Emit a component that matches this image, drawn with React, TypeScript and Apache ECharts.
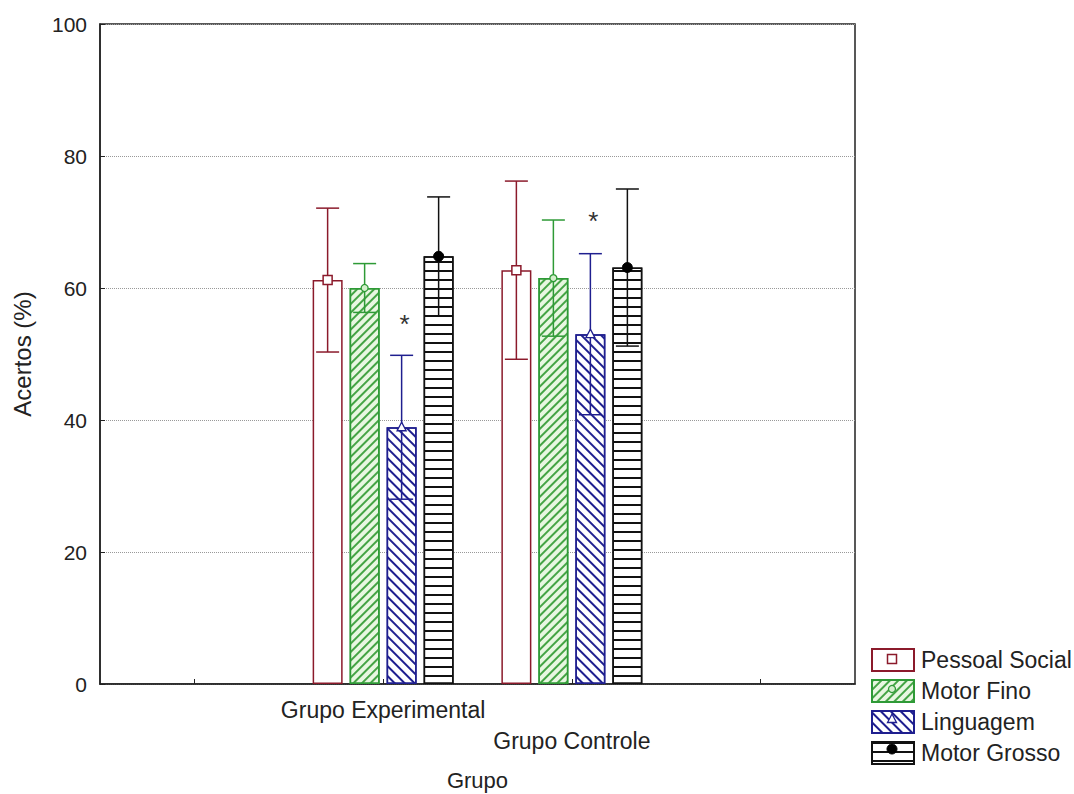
import React, { useEffect, useRef } from 'react';
import * as echarts from 'echarts';

// ---- data ----
const categories = ['', 'Grupo Experimental', 'Grupo Controle', ''];
const seriesNames = ['Pessoal Social', 'Motor Fino', 'Linguagem', 'Motor Grosso'];
const groupIndex = [1, 2];
const pessoalSocialMean = [61.2, 62.7];
const pessoalSocialErr = [10.9, 13.5];
const motorFinoMean = [60.0, 61.5];
const motorFinoErr = [3.7, 8.8];
const linguagemMean = [38.9, 53.0];
const linguagemErr = [10.9, 12.2];
const motorGrossoMean = [64.8, 63.1];
const motorGrossoErr = [9.0, 11.9];
const linguagemAsterisk = [55.5, 71.0];
const yMin = 0;
const yMax = 100;
const yInterval = 20;

const means = [pessoalSocialMean, motorFinoMean, linguagemMean, motorGrossoMean];
const errs = [pessoalSocialErr, motorFinoErr, linguagemErr, motorGrossoErr];

// ---- styles ----
const FONT = '"Liberation Sans", Arial, sans-serif';
const TEXT = '#222';
const COLORS = ['#8b1a2b', '#2e9a36', '#1f1f8f', '#111111'];
const FILLS = ['#ffffff', '#e8f7e1', '#ffffff', '#ffffff'];
const BAR_W = 30;
const BAR_GAP = 7;
const PITCH = BAR_W + BAR_GAP;
const CAP = 11.5;

const DECALS: any[] = [
  null,
  { symbol: 'rect', symbolSize: 1, color: '#45a445', dashArrayX: [1, 0], dashArrayY: [1.1, 3.6], rotation: -Math.PI / 4 },
  { symbol: 'rect', symbolSize: 1, color: '#1f1f8f', dashArrayX: [1, 0], dashArrayY: [1.3, 4.2], rotation: Math.PI / 4 },
  { symbol: 'rect', symbolSize: 1, color: '#111111', dashArrayX: [1, 0], dashArrayY: [1.6, 6.7], rotation: 0 },
];

function marker(k: number, x: number, y: number): any {
  const c = COLORS[k];
  if (k === 0) {
    return { type: 'rect', z: 100, shape: { x: x - 4.5, y: y - 4.5, width: 9, height: 9 }, style: { fill: '#fff', stroke: c, lineWidth: 1.5 } };
  }
  if (k === 1) {
    return { type: 'circle', z: 100, shape: { cx: x, cy: y, r: 3.5 }, style: { fill: '#d4efcc', stroke: c, lineWidth: 1.3 } };
  }
  if (k === 2) {
    return { type: 'polygon', z: 100, shape: { points: [[x, y - 5], [x - 4.5, y + 3.5], [x + 4.5, y + 3.5]] }, style: { fill: '#fff', stroke: c, lineWidth: 1.3 } };
  }
  return { type: 'circle', z: 100, shape: { cx: x, cy: y, r: 5 }, style: { fill: '#000', stroke: '#000', lineWidth: 1 } };
}

function makeRenderItem(k: number) {
  return (params: any, api: any) => {
    const cat = api.value(0);
    const mean = api.value(1);
    const err = api.value(2);
    const center = api.coord([cat, mean]);
    const hi = api.coord([cat, mean + err]);
    const lo = api.coord([cat, mean - err]);
    const x = center[0] + (k - 1.5) * PITCH;
    const st = { stroke: COLORS[k], lineWidth: 1.5 };
    const children: any[] = [
      { type: 'line', shape: { x1: x, y1: hi[1], x2: x, y2: lo[1] }, style: st },
      { type: 'line', shape: { x1: x - CAP, y1: hi[1], x2: x + CAP, y2: hi[1] }, style: st },
      { type: 'line', shape: { x1: x - CAP, y1: lo[1], x2: x + CAP, y2: lo[1] }, style: st },
      marker(k, x, center[1]),
    ];
    if (k === 2) {
      const a = api.coord([cat, api.value(3)]);
      children.push({
        type: 'text',
        x: x + 3,
        y: a[1] + 6,
        style: { text: '*', fontSize: 26, fontFamily: FONT, fill: '#333', align: 'center', verticalAlign: 'middle' },
      });
    }
    return { type: 'group', children };
  };
}

// legend layout
const LEG_LEFT = 871;
const LEG_TOP = 648;
const LEG_W = 42;
const LEG_H = 22;
const LEG_GAP = 7;

export default function App() {
  const ref = useRef<HTMLDivElement>(null);
  useEffect(() => {
    if (!ref.current) return;
    const chart = echarts.init(ref.current, null, { renderer: 'svg' });

    const barSeries = seriesNames.map((name, k) => {
      const data: any[] = categories.map(() => '-');
      groupIndex.forEach((gi, j) => { data[gi] = means[k][j]; });
      return {
        name,
        type: 'bar',
        data,
        barWidth: BAR_W,
        barGap: (BAR_GAP / BAR_W * 100).toFixed(1) + '%',
        z: 2,
        itemStyle: {
          color: FILLS[k],
          borderColor: COLORS[k],
          borderWidth: 1.5,
          ...(DECALS[k] ? { decal: DECALS[k] } : {}),
        },
        emphasis: { disabled: true },
      };
    });

    const errSeries = seriesNames.map((name, k) => ({
      name: name + ' (erro)',
      type: 'custom',
      z: 5,
      silent: true,
      renderItem: makeRenderItem(k),
      data: groupIndex.map((gi, j) => (k === 2 ? [gi, means[k][j], errs[k][j], linguagemAsterisk[j]] : [gi, means[k][j], errs[k][j]])),
    }));

    chart.setOption({
      animation: false,
      backgroundColor: '#ffffff',
      textStyle: { fontFamily: FONT, color: TEXT },
      grid: {
        left: 100, right: 219, top: 24, bottom: 110,
        outerBoundsMode: 'none',
        containLabel: false,
        show: true, borderColor: '#222', borderWidth: 1.5, backgroundColor: 'transparent',
      },
      legend: {
        show: true,
        orient: 'vertical',
        left: LEG_LEFT,
        top: LEG_TOP,
        padding: 0,
        itemWidth: LEG_W,
        itemHeight: LEG_H,
        itemGap: LEG_GAP,
        selectedMode: false,
        icon: 'rect',
        data: seriesNames,
        textStyle: { fontSize: 23, fontFamily: FONT, color: TEXT, padding: [0, 0, 0, 2] },
      },
      xAxis: {
        type: 'category',
        data: categories,
        name: 'Grupo',
        nameLocation: 'middle',
        nameGap: 85,
        nameTextStyle: { fontSize: 22, fontFamily: FONT, color: TEXT, verticalAlign: 'top' },
        axisLine: { show: true, lineStyle: { color: '#222', width: 1.5 } },
        axisTick: { show: true, inside: true, alignWithLabel: true, length: 5, lineStyle: { color: '#222' } },
        axisLabel: {
          interval: 0,
          margin: 10,
          fontSize: 23,
          lineHeight: 31,
          color: TEXT,
          fontFamily: FONT,
          formatter: (v: string, i: number) => (i === 2 ? '\n' + v : v),
        },
        splitLine: { show: false },
      },
      yAxis: {
        type: 'value',
        min: yMin,
        max: yMax,
        interval: yInterval,
        name: 'Acertos (%)',
        nameLocation: 'middle',
        nameGap: 66,
        nameTextStyle: { fontSize: 24, fontFamily: FONT, color: TEXT },
        axisLine: { show: true, lineStyle: { color: '#222', width: 1.5 } },
        axisTick: { show: true, inside: true, length: 5, lineStyle: { color: '#222' } },
        axisLabel: { fontSize: 21, color: TEXT, margin: 13, fontFamily: FONT },
        splitLine: { show: true, lineStyle: { color: '#999', type: 'dotted', width: 1 } },
      },
      series: [...barSeries, ...errSeries],
    } as any);

    // legend markers placed at the centres of the legend icons, as laid out by ECharts
    const legendModel: any = (chart as any).getModel().getComponent('legend');
    const legendView: any = legendModel ? (chart as any).getViewOfComponentModel(legendModel) : null;
    const graphics: any[] = [];
    if (legendView) {
      const rects: any[] = [];
      legendView.group.traverse((el: any) => {
        if (el.type === 'rect' && el.shape && Math.abs(el.shape.width - LEG_W) < 1 && Math.abs(el.shape.height - LEG_H) < 1) {
          const m = el.getComputedTransform ? el.getComputedTransform() : null;
          const tx = m ? m[4] : 0;
          const ty = m ? m[5] : 0;
          rects.push({ x: tx + el.shape.x + el.shape.width / 2, y: ty + el.shape.y + el.shape.height / 2 });
        }
      });
      rects.sort((a, b) => a.y - b.y);
      rects.slice(0, 4).forEach((r, k) => graphics.push(marker(k, r.x, r.y)));
    }
    if (graphics.length < 4) {
      graphics.length = 0;
      seriesNames.forEach((_, k) => graphics.push(marker(k, LEG_LEFT + LEG_W / 2, LEG_TOP + LEG_H / 2 + k * (LEG_H + LEG_GAP + 1))));
    }
    chart.setOption({ graphic: graphics } as any);

    return () => chart.dispose();
  }, []);

  return (
    <div
      ref={ref}
      style={{ position: 'fixed', left: 0, top: 0, width: 1074, height: 794, background: '#fff' }}
    />
  );
}
